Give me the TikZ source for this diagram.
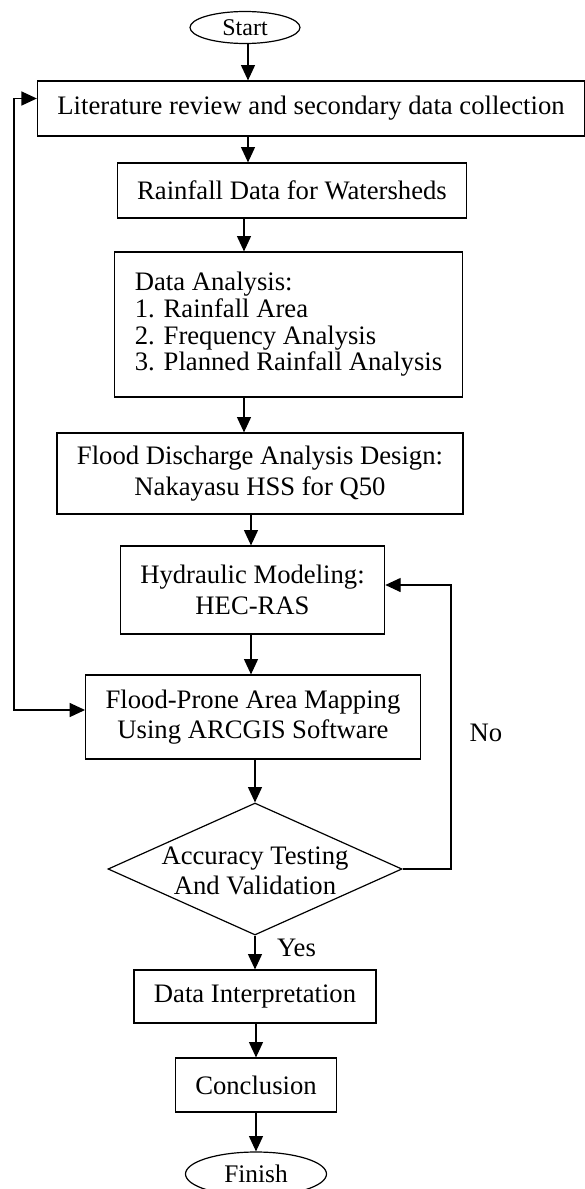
\documentclass[tikz,border=0pt]{standalone}
\usepackage{fontspec}
\setmainfont{Liberation Serif}
\usetikzlibrary{arrows.meta,shapes.geometric,calc}

\begin{document}
\begin{tikzpicture}[x=0.75pt,y=-0.75pt,
  every node/.style={font=\fontsize{20}{23}\selectfont},
  box/.style={draw, line width=0.9pt, rectangle, inner xsep=15pt, inner ysep=0pt, align=center},
  terminal/.style={draw, line width=0.9pt, ellipse, inner sep=0pt},
  decision/.style={draw, line width=0.9pt, diamond, inner sep=0pt,
    minimum width=220.5pt, minimum height=99pt},
  arr/.style={line width=0.9pt, -{Triangle[length=11.5pt,width=10.5pt]}},
  arrboth/.style={line width=0.9pt,
    {Triangle[length=11.5pt,width=10.5pt]}-{Triangle[length=11.5pt,width=10.5pt]}}]

\useasboundingbox (0,0) rectangle (585,1189);

% process steps
\node[terminal, minimum width=82.5pt, minimum height=24pt,
      font=\fontsize{18}{20}\selectfont] (start) at (245,27.5) {Start};
\node[box, minimum height=41.25pt] (lit) at (311,108.5)
  {Literature review and secondary data collection};
\node[box, minimum height=41.25pt] (rain) at (292,190.5)
  {Rainfall Data for Watersheds};
\node[box, minimum height=108.75pt, align=left,
      font=\fontsize{20}{20}\selectfont] (ana) at (288.5,324.5)
  {Data Analysis:\\1. Rainfall Area\\2. Frequency Analysis\\3. Planned Rainfall Analysis};
\node[box, minimum height=60.75pt] (flood) at (260,473.5)
  {Flood Discharge Analysis Design:\\Nakayasu HSS for Q50};
\node[box, minimum height=66pt] (hyd) at (252.5,590)
  {Hydraulic Modeling:\\HEC-RAS};
\node[box, minimum height=63pt] (map) at (253,717)
  {Flood-Prone Area Mapping\\Using ARCGIS Software};
\node[decision] (acc) at (255,869) {};
\node[align=center] (acctext) at (255,871) {Accuracy Testing\\And Validation};
\node[box, minimum height=39.75pt] (interp) at (255,996.5) {Data Interpretation};
\node[box, minimum height=40.5pt] (concl) at (256,1085) {Conclusion};
\node[terminal, minimum width=105.75pt, minimum height=33pt,
      font=\fontsize{19}{22}\selectfont] (finish) at (256,1174) {Finish};

% branch labels
\node (no) at (486,733) {No};
\node (yes) at (296.5,948) {Yes};

% columns of the main arrows
\coordinate (colA) at (248,0);
\coordinate (colB) at (244,0);
\coordinate (colC) at (251,0);

\draw[arr] (start.south -| colA) -- (lit.north -| colA);
\draw[arr] (lit.south -| colA) -- (rain.north -| colA);
\draw[arr] (rain.south -| colB) -- (ana.north -| colB);
\draw[arr] (ana.south -| colB) -- (flood.north -| colB);
\draw[arr] (flood.south -| colC) -- (hyd.north -| colC);
\draw[arr] (hyd.south -| colC) -- (map.north -| colC);
\draw[arr] (map.south -| acc.north) -- (acc.north);
\draw[arr] (acc.south) -- (acc.south |- interp.north);
\draw[arr] (interp.south -| concl.north) -- (concl.north);
\draw[arr] (concl.south) -- (finish.north);

% "No" loop back to hydraulic modelling
\coordinate (loopX) at (451,0);
\coordinate (hydIn) at ($(hyd.east)+(0,-5)$);
\draw[arr] (acc.east) -- (acc.east -| loopX) -- (loopX |- hydIn) -- (hydIn);

% feedback line on the left between literature review and mapping
\coordinate (backX) at (14,0);
\coordinate (litIn) at ($(lit.west)+(0,-10)$);
\coordinate (mapIn) at ($(map.west)+(0,-7)$);
\draw[arrboth] (litIn) -- (litIn -| backX) -- (backX |- mapIn) -- (mapIn);
\end{tikzpicture}
\end{document}
